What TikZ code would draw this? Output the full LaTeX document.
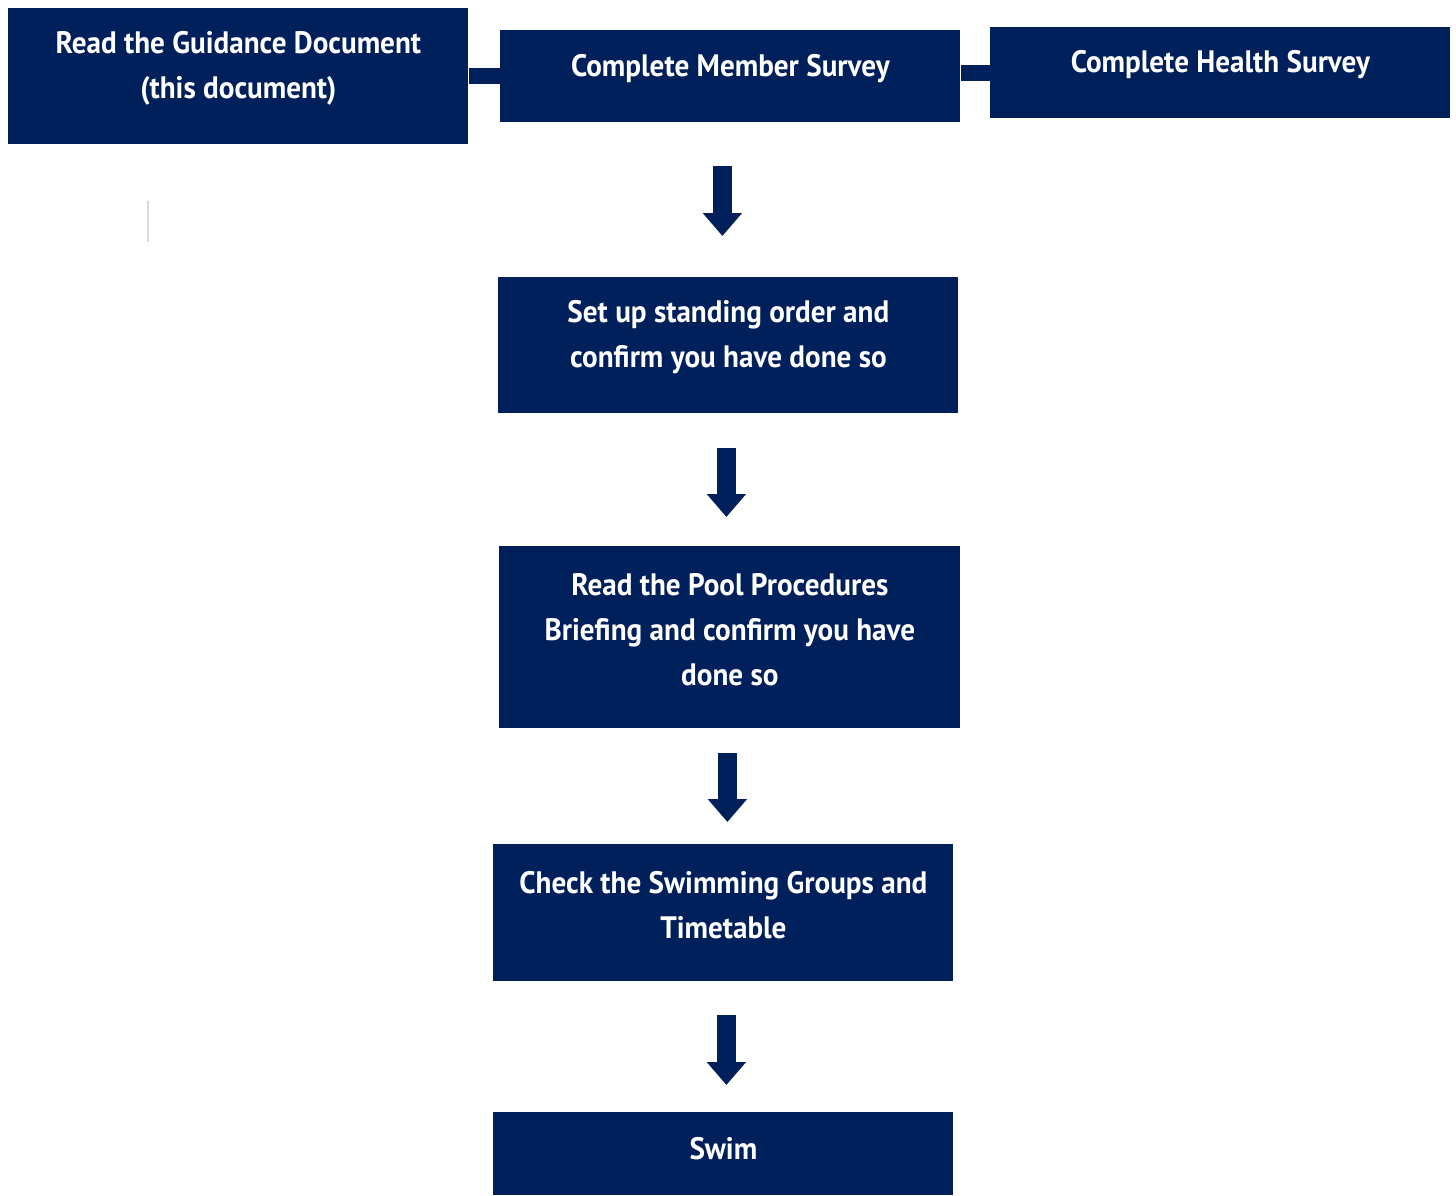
\documentclass[tikz,border=0pt]{standalone}
\usepackage{fontspec}
\setmainfont{PT Sans}[FakeStretch=0.94]
\usepackage{tikz}
\usetikzlibrary{arrows.meta}
\usetikzlibrary{calc}

\definecolor{navy}{RGB}{0,32,91}

\begin{document}
\begin{tikzpicture}[x=0.5pt, y=-0.5pt,
    box/.style={fill=navy, draw=none, minimum width=230pt, inner sep=0pt, anchor=north west},
    lbl/.style={text=white, font=\bfseries\fontsize{15.5}{22.5}\selectfont, align=center, inner sep=0pt},
    bar/.style={navy, line width=8pt},
    flow/.style 2 args={navy, line width=9.5pt, -{Triangle[width=19pt,length=11.5pt]}, shorten <=#1, shorten >=#2}]
  \useasboundingbox (0,0) rectangle (1456,1195);

  \node[box, minimum height=68pt] (guide) at (8,8) {};
  \node[box, minimum height=46pt] (member) at (500,30) {};
  \node[box, minimum height=45.5pt] (health) at (990,27) {};
  \node[box, minimum height=68pt] (standing) at (498,277) {};
  \node[box, minimum height=91pt, minimum width=230.5pt] (briefing) at (499,546) {};
  \node[box, minimum height=68.5pt] (groups) at (493,844) {};
  \node[box, minimum height=41.5pt] (swim) at (493,1112) {};

  \node[lbl] (guide-t) at ([yshift=4pt]guide.center) {Read the Guidance Document\\(this document)};
  \node[lbl] (member-t) at ([yshift=4pt]member.center) {Complete Member Survey};
  \node[lbl] (health-t) at ([yshift=4pt]health.center) {Complete Health Survey};
  \node[lbl] (standing-t) at ([yshift=4pt]standing.center) {Set up standing order and\\confirm you have done so};
  \node[lbl] (briefing-t) at ([yshift=4pt]briefing.center) {Read the Pool Procedures\\Briefing and confirm you have\\done so};
  \node[lbl] (groups-t) at ([yshift=4pt]groups.center) {Check the Swimming Groups and\\Timetable};
  \node[lbl] (swim-t) at ([yshift=2.5pt]swim.center) {Swim};

  \draw[bar] (guide.east) -- (member.west);
  \draw[bar] (member.east |- health.west) -- (health.west);

  \draw[flow={21.5pt}{20.5pt}] ([xshift=-4pt]member.south) -- ([xshift=-4pt]member.south |- standing.north);
  \draw[flow={17pt}{14.5pt}] ([xshift=-1pt]standing.south) -- ([xshift=-1pt]standing.south |- briefing.north);
  \draw[flow={12pt}{11pt}] ([xshift=-1.25pt]briefing.south) -- ([xshift=-1.25pt]briefing.south |- groups.north);
  \draw[flow={16.5pt}{13.5pt}] ([xshift=1.5pt]groups.south) -- ([xshift=1.5pt]groups.south |- swim.north);

  \draw[black!15, line width=0.6pt] (148,201) -- (148,242);
\end{tikzpicture}
\end{document}
